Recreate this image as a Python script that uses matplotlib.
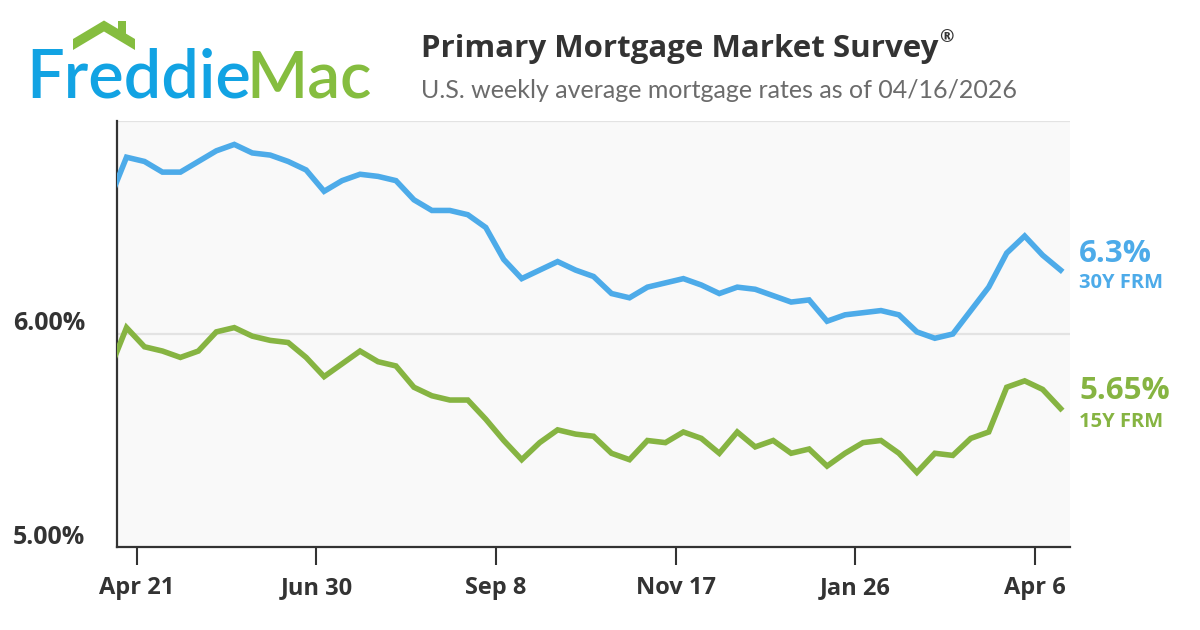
import numpy as np
import pandas as pd
import matplotlib
matplotlib.use("Agg")
import matplotlib.pyplot as plt
from matplotlib.patches import Polygon, Rectangle
from matplotlib.transforms import ScaledTranslation

# weekly PMMS release dates (Thursdays), Apr 10 2025 .. Apr 16 2026
dates = pd.date_range("2025-04-10", periods=54, freq="7D")

rate_30y = [6.62, 6.83, 6.81, 6.76, 6.76, 6.81, 6.86, 6.89, 6.85, 6.84,
            6.81, 6.77, 6.67, 6.72, 6.75, 6.74, 6.72, 6.63, 6.58, 6.58,
            6.56, 6.50, 6.35, 6.26, 6.30, 6.34, 6.30, 6.27, 6.19, 6.17,
            6.22, 6.24, 6.26, 6.23, 6.19, 6.22, 6.21, 6.18, 6.15, 6.16,
            6.06, 6.09, 6.10, 6.11, 6.09, 6.01, 5.98, 6.00, 6.11, 6.22,
            6.38, 6.46, 6.37, 6.30]

rate_15y = [5.82, 6.03, 5.94, 5.92, 5.89, 5.92, 6.01, 6.03, 5.99, 5.97,
            5.96, 5.89, 5.80, 5.86, 5.92, 5.87, 5.85, 5.75, 5.71, 5.69,
            5.69, 5.60, 5.50, 5.41, 5.49, 5.55, 5.53, 5.52, 5.44, 5.41,
            5.50, 5.49, 5.54, 5.51, 5.44, 5.54, 5.47, 5.50, 5.44, 5.46,
            5.38, 5.44, 5.49, 5.50, 5.44, 5.35, 5.44, 5.43, 5.51, 5.54,
            5.75, 5.78, 5.74, 5.65]

tick_dates = ["2025-04-21", "2025-06-30", "2025-09-08",
              "2025-11-17", "2026-01-26", "2026-04-06"]
tick_labels = ["Apr 21", "Jun 30", "Sep 8", "Nov 17", "Jan 26", "Apr 6"]
y_ticks = [5.0, 6.0]
y_labels = ["5.00%", "6.00%"]

BLUE = "#4DABE9"
GREEN = "#86B442"
LOGO_BLUE = "#12A3E3"
LOGO_GREEN = "#85BD3F"
DARK = "#333333"
W, H = 1200, 630
BOLD_FONT = ["Open Sans", "DejaVu Sans"]

plt.rcParams["font.family"] = ["Lato", "DejaVu Sans"]


def px(x, y):
    """pixel position (from top-left) -> figure fraction"""
    return x / W, 1 - y / H


fig = plt.figure(figsize=(12, 6.3), dpi=100)
fig.patch.set_facecolor("white")
renderer = fig.canvas.get_renderer()

l, b = px(117, 547)
r, t = px(1070, 121)
ax = fig.add_axes([l, b, r - l, t - b])
ax.set_facecolor("#F9F9F9")

for yv in [6.0, 7.0]:
    ax.axhline(yv, color="#E3E3E3", lw=1.6, zorder=1)

ax.plot(dates, rate_30y, color=BLUE, lw=4, solid_joinstyle="miter", zorder=3)
ax.plot(dates, rate_15y, color=GREEN, lw=4, solid_joinstyle="miter", zorder=3)

ax.set_xlim(pd.Timestamp("2025-04-13 07:00"), pd.Timestamp("2026-04-19 16:00"))
ax.set_ylim(5.0, 7.0)

ax.set_xticks(pd.to_datetime(tick_dates))
ax.set_xticklabels(tick_labels)
ax.set_yticks(y_ticks)
ax.set_yticklabels(y_labels)

ax.tick_params(axis="x", length=13, width=1.5, color=DARK, pad=8,
               labelsize=17, labelcolor=DARK, direction="out")
ax.tick_params(axis="y", length=0, pad=23, labelsize=18, labelcolor=DARK)
for lab in ax.get_xticklabels() + ax.get_yticklabels():
    lab.set_fontweight("bold")
    lab.set_family(BOLD_FONT)
for lab in ax.get_yticklabels():
    lab.set_transform(lab.get_transform() + ScaledTranslation(0, 0.13, fig.dpi_scale_trans))

for side in ["top", "right"]:
    ax.spines[side].set_visible(False)
for side in ["left", "bottom"]:
    ax.spines[side].set_color(DARK)
    ax.spines[side].set_linewidth(1.6)

# latest values on the right
fig.text(*px(1079, 262), f"{rate_30y[-1]:g}%", color=BLUE, fontsize=22.5,
         fontweight="bold", family=BOLD_FONT, va="baseline")
fig.text(*px(1079, 288), "30Y FRM", color=BLUE, fontsize=14.5,
         fontweight="bold", family=BOLD_FONT, va="baseline")
fig.text(*px(1079, 399), f"{rate_15y[-1]:g}%", color=GREEN, fontsize=22.5,
         fontweight="bold", family=BOLD_FONT, va="baseline")
fig.text(*px(1079, 427), "15Y FRM", color=GREEN, fontsize=14.5,
         fontweight="bold", family=BOLD_FONT, va="baseline")

# titles
title = fig.text(*px(421, 57), "Primary Mortgage Market Survey", color=DARK,
                 fontsize=22.5, fontweight="bold", family=BOLD_FONT,
                 va="baseline")
tb = title.get_window_extent(renderer)
fig.text(tb.x1 / W + 1 / W, px(0, 42)[1], "\u00ae", color=DARK, fontsize=12.5,
         fontweight="bold", family=BOLD_FONT, va="baseline")
fig.text(*px(421, 98), "U.S. weekly average mortgage rates as of 04/16/2026",
         color="#6B6B6B", fontsize=18, va="baseline")

# logo
fred = fig.text(*px(26, 98), "Freddie", color=LOGO_BLUE, fontsize=48,
                fontweight="semibold", va="baseline")
fb = fred.get_window_extent(renderer)
fig.text(fb.x1 / W - 4 / W, px(0, 98)[1], "Mac", color=LOGO_GREEN, fontsize=47,
         fontweight="semibold", va="baseline")
roof = [px(73, 50), px(73, 39), px(104, 20.5), px(135, 39), px(135, 50), px(104, 31.5)]
fig.add_artist(Polygon(roof, closed=True, transform=fig.transFigure,
                       facecolor=LOGO_GREEN, edgecolor="none"))
cx, cy = px(118, 34)
fig.add_artist(Rectangle((cx, cy), 8 / W, 13 / H, transform=fig.transFigure,
                         facecolor=LOGO_GREEN, edgecolor="none"))

fig.savefig("out.png", dpi=100)
